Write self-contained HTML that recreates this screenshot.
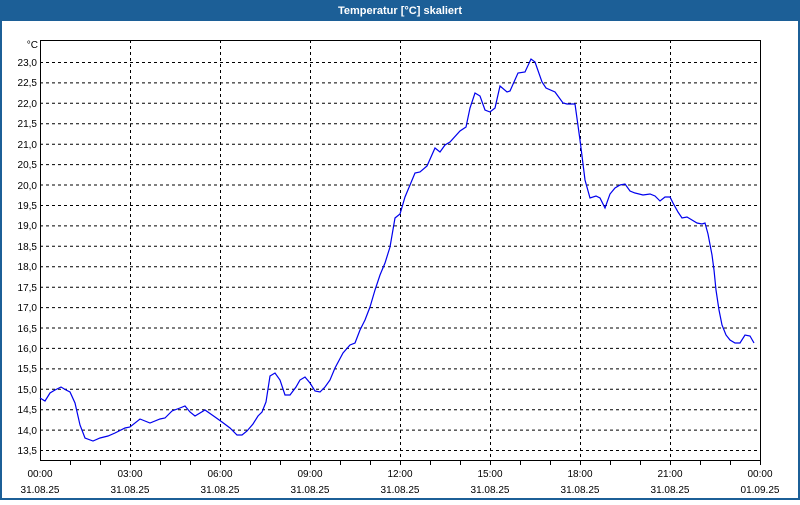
<!DOCTYPE html><html><head><meta charset="utf-8"><style>
body{margin:0;width:800px;height:500px;overflow:hidden;background:#fff;font-family:"Liberation Sans",sans-serif}
</style></head><body>
<svg width="800" height="500" xmlns="http://www.w3.org/2000/svg" font-family="Liberation Sans, sans-serif" font-size="10">
<rect x="0" y="0" width="800" height="500" fill="#1c5f97"/>
<rect x="2" y="21" width="796" height="477" fill="#fff"/>
<text x="400" y="14" fill="#fff" font-weight="bold" font-size="11" text-anchor="middle">Temperatur [°C] skaliert</text>
<g stroke="#000" stroke-dasharray="3,3" stroke-width="1">
<path d="M40 62.5H760M40 82.9H760M40 103.3H760M40 123.8H760M40 144.2H760M40 164.6H760M40 185H760M40 205.5H760M40 225.9H760M40 246.3H760M40 266.7H760M40 287.2H760M40 307.6H760M40 328H760M40 348.4H760M40 368.9H760M40 389.3H760M40 409.7H760M40 430.1H760M40 450.5H760"/>
<path d="M130.5 40V460M220.5 40V460M310.5 40V460M400.5 40V460M490.5 40V460M580.5 40V460M670.5 40V460"/>
</g>
<path d="M40.5 40.5H760.5V460.5H40.5Z" fill="none" stroke="#000"/>
<g stroke="#000"><path d="M70.5 460V465M100.5 460V465M130.5 460V465M160.5 460V465M190.5 460V465M220.5 460V465M250.5 460V465M280.5 460V465M310.5 460V465M340.5 460V465M370.5 460V465M400.5 460V465M430.5 460V465M460.5 460V465M490.5 460V465M520.5 460V465M550.5 460V465M580.5 460V465M610.5 460V465M640.5 460V465M670.5 460V465M700.5 460V465M730.5 460V465M760.5 460V465"/></g>
<g text-anchor="end" fill="#000">
<text x="38" y="48">°C</text>
<text x="37" y="66">23,0</text><text x="37" y="86">22,5</text><text x="37" y="107">22,0</text><text x="37" y="127">21,5</text><text x="37" y="148">21,0</text><text x="37" y="168">20,5</text><text x="37" y="189">20,0</text><text x="37" y="209">19,5</text><text x="37" y="229">19,0</text><text x="37" y="250">18,5</text><text x="37" y="270">18,0</text><text x="37" y="291">17,5</text><text x="37" y="311">17,0</text><text x="37" y="332">16,5</text><text x="37" y="352">16,0</text><text x="37" y="372">15,5</text><text x="37" y="393">15,0</text><text x="37" y="413">14,5</text><text x="37" y="434">14,0</text><text x="37" y="454">13,5</text>
</g>
<g text-anchor="middle" fill="#000">
<text x="40" y="477">00:00</text><text x="40" y="493">31.08.25</text>
<text x="130" y="477">03:00</text><text x="130" y="493">31.08.25</text>
<text x="220" y="477">06:00</text><text x="220" y="493">31.08.25</text>
<text x="310" y="477">09:00</text><text x="310" y="493">31.08.25</text>
<text x="400" y="477">12:00</text><text x="400" y="493">31.08.25</text>
<text x="490" y="477">15:00</text><text x="490" y="493">31.08.25</text>
<text x="580" y="477">18:00</text><text x="580" y="493">31.08.25</text>
<text x="670" y="477">21:00</text><text x="670" y="493">31.08.25</text>
<text x="760" y="477">00:00</text><text x="760" y="493">01.09.25</text>
</g>
<polyline fill="none" stroke="#0000ee" stroke-width="1.2" points="40,398 45,401 50,393 55,390 61,387 66,390 70,392 75,403 80,425 85,438 93,441 100,438 108,436 115,433 125,428 130,427 140,419 150,423 160,419 165,418 172,411 180,408 185,406 190,412 195,416 205,410 215,417 222,422 230,428 237,435 242,435 247,431 253,424 258,416 262,412 266,402 270,376 275,373 280,380 285,395 290,395 296,387 300,380 305,377 310,383 315,391 320,392 325,387 330,380 335,368 343,353 350,345 355,343 360,330 365,320 370,307 375,290 380,275 385,263 390,247 395,218 400,214 405,197 410,185 415,173 420,172 427,166 435,148 440,152 445,145 450,142 460,131 466,127 470,108 475,93 480,96 485,110 490,112 495,108 500,86 507,92 510,91 518,73 525,72 531,59 535,62 542,82 546,88 555,92 563,103 567,104 575,104 580,140 585,180 590,198 596,196 600,198 605,208 610,194 615,188 620,185 625,184 630,191 635,193 643,195 650,194 655,196 660,201 665,197 670,197 673,203 678,212 682,218 687,217 692,220 697,223 702,224 705,223 708,234 712,255 714,270 716,290 719,310 722,325 726,335 730,340 735,343 740,343 745,335 750,336 754,343"/>
</svg>
</body></html>
